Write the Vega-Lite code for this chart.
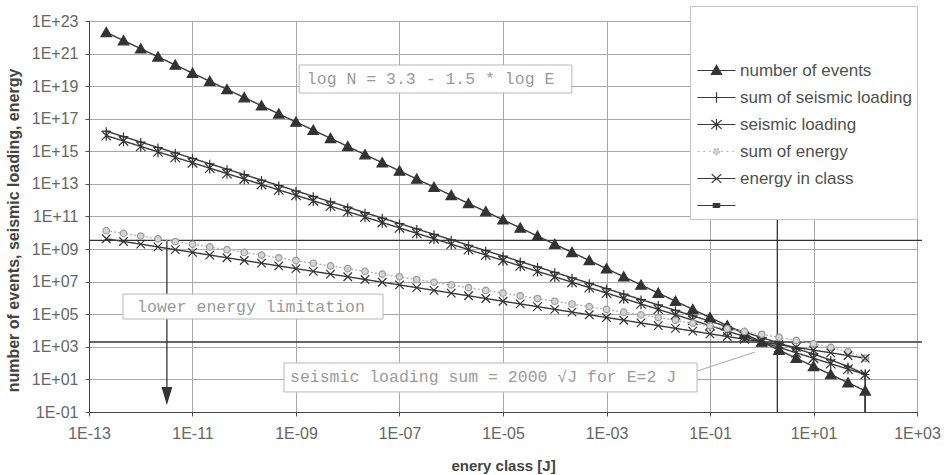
{
  "$schema": "https://vega.github.io/schema/vega-lite/v6.json",
  "width": 828,
  "height": 391,
  "autosize": {"type": "none"},
  "padding": {"left": 89, "top": 21, "right": 27, "bottom": 63},
  "background": "white",
  "config": {
    "font": "Liberation Sans",
    "view": {"stroke": "#555555", "strokeWidth": 1},
    "axis": {
      "grid": true,
      "gridColor": "#a8a8a8",
      "gridWidth": 1,
      "domainColor": "#444444",
      "tickColor": "#555555",
      "tickSize": 4,
      "labelFont": "Liberation Sans",
      "labelFontSize": 16,
      "labelColor": "#666666",
      "titleFont": "Liberation Sans",
      "titleFontSize": 15,
      "titleFontWeight": "bold",
      "titleColor": "#444444"
    }
  },
  "datasets": {
    "classes": [
      {"i": 0, "E": 2.154e-13, "number of events": 1.995e22, "sum of seismic loading": 1.724e16, "seismic loading": 9.26e15, "sum of energy": 1.349e10, "energy in class": 4.30e9},
      {"i": 1, "E": 4.642e-13, "number of events": 6.31e21, "sum of seismic loading": 8.01e15, "seismic loading": 4.30e15, "sum of energy": 9.19e9, "energy in class": 2.93e9},
      {"i": 2, "E": 1e-12, "number of events": 2.0e21, "sum of seismic loading": 3.72e15, "seismic loading": 2.0e15, "sum of energy": 6.27e9, "energy in class": 2.0e9},
      {"i": 3, "E": 2.154e-12, "number of events": 6.31e20, "sum of seismic loading": 1.724e15, "seismic loading": 9.26e14, "sum of energy": 4.27e9, "energy in class": 1.36e9},
      {"i": 4, "E": 4.642e-12, "number of events": 2.0e20, "sum of seismic loading": 8.01e14, "seismic loading": 4.30e14, "sum of energy": 2.905e9, "energy in class": 9.26e8},
      {"i": 5, "E": 1e-11, "number of events": 6.31e19, "sum of seismic loading": 3.72e14, "seismic loading": 2.0e14, "sum of energy": 1.98e9, "energy in class": 6.31e8},
      {"i": 6, "E": 2.154e-11, "number of events": 2.0e19, "sum of seismic loading": 1.724e14, "seismic loading": 9.26e13, "sum of energy": 1.349e9, "energy in class": 4.30e8},
      {"i": 7, "E": 4.642e-11, "number of events": 6.31e18, "sum of seismic loading": 8.01e13, "seismic loading": 4.30e13, "sum of energy": 9.19e8, "energy in class": 2.93e8},
      {"i": 8, "E": 1e-10, "number of events": 2.0e18, "sum of seismic loading": 3.72e13, "seismic loading": 2.0e13, "sum of energy": 6.27e8, "energy in class": 2.0e8},
      {"i": 9, "E": 2.154e-10, "number of events": 6.31e17, "sum of seismic loading": 1.724e13, "seismic loading": 9.26e12, "sum of energy": 4.27e8, "energy in class": 1.36e8},
      {"i": 10, "E": 4.642e-10, "number of events": 2.0e17, "sum of seismic loading": 8.01e12, "seismic loading": 4.30e12, "sum of energy": 2.905e8, "energy in class": 9.26e7},
      {"i": 11, "E": 1e-9, "number of events": 6.31e16, "sum of seismic loading": 3.72e12, "seismic loading": 2.0e12, "sum of energy": 1.98e8, "energy in class": 6.31e7},
      {"i": 12, "E": 2.154e-9, "number of events": 2.0e16, "sum of seismic loading": 1.724e12, "seismic loading": 9.26e11, "sum of energy": 1.349e8, "energy in class": 4.30e7},
      {"i": 13, "E": 4.642e-9, "number of events": 6.31e15, "sum of seismic loading": 8.01e11, "seismic loading": 4.30e11, "sum of energy": 9.19e7, "energy in class": 2.93e7},
      {"i": 14, "E": 1e-8, "number of events": 2.0e15, "sum of seismic loading": 3.72e11, "seismic loading": 2.0e11, "sum of energy": 6.27e7, "energy in class": 2.0e7},
      {"i": 15, "E": 2.154e-8, "number of events": 6.31e14, "sum of seismic loading": 1.724e11, "seismic loading": 9.26e10, "sum of energy": 4.27e7, "energy in class": 1.36e7},
      {"i": 16, "E": 4.642e-8, "number of events": 2.0e14, "sum of seismic loading": 8.01e10, "seismic loading": 4.30e10, "sum of energy": 2.905e7, "energy in class": 9.26e6},
      {"i": 17, "E": 1e-7, "number of events": 6.31e13, "sum of seismic loading": 3.72e10, "seismic loading": 2.0e10, "sum of energy": 1.98e7, "energy in class": 6.31e6},
      {"i": 18, "E": 2.154e-7, "number of events": 2.0e13, "sum of seismic loading": 1.724e10, "seismic loading": 9.26e9, "sum of energy": 1.349e7, "energy in class": 4.30e6},
      {"i": 19, "E": 4.642e-7, "number of events": 6.31e12, "sum of seismic loading": 8.01e9, "seismic loading": 4.30e9, "sum of energy": 9.19e6, "energy in class": 2.93e6},
      {"i": 20, "E": 1e-6, "number of events": 2.0e12, "sum of seismic loading": 3.72e9, "seismic loading": 2.0e9, "sum of energy": 6.27e6, "energy in class": 2.0e6},
      {"i": 21, "E": 2.154e-6, "number of events": 6.31e11, "sum of seismic loading": 1.724e9, "seismic loading": 9.26e8, "sum of energy": 4.27e6, "energy in class": 1.36e6},
      {"i": 22, "E": 4.642e-6, "number of events": 2.0e11, "sum of seismic loading": 8.01e8, "seismic loading": 4.30e8, "sum of energy": 2.905e6, "energy in class": 9.26e5},
      {"i": 23, "E": 1e-5, "number of events": 6.31e10, "sum of seismic loading": 3.72e8, "seismic loading": 2.0e8, "sum of energy": 1.98e6, "energy in class": 6.31e5},
      {"i": 24, "E": 2.154e-5, "number of events": 2.0e10, "sum of seismic loading": 1.724e8, "seismic loading": 9.26e7, "sum of energy": 1.349e6, "energy in class": 4.30e5},
      {"i": 25, "E": 4.642e-5, "number of events": 6.31e9, "sum of seismic loading": 8.01e7, "seismic loading": 4.30e7, "sum of energy": 9.19e5, "energy in class": 2.93e5},
      {"i": 26, "E": 1e-4, "number of events": 2.0e9, "sum of seismic loading": 3.72e7, "seismic loading": 2.0e7, "sum of energy": 6.27e5, "energy in class": 2.0e5},
      {"i": 27, "E": 2.154e-4, "number of events": 6.31e8, "sum of seismic loading": 1.724e7, "seismic loading": 9.26e6, "sum of energy": 4.27e5, "energy in class": 1.36e5},
      {"i": 28, "E": 4.642e-4, "number of events": 2.0e8, "sum of seismic loading": 8.01e6, "seismic loading": 4.30e6, "sum of energy": 2.905e5, "energy in class": 9.26e4},
      {"i": 29, "E": 1e-3, "number of events": 6.31e7, "sum of seismic loading": 3.72e6, "seismic loading": 2.0e6, "sum of energy": 1.976e5, "energy in class": 6.31e4},
      {"i": 30, "E": 2.154e-3, "number of events": 2.0e7, "sum of seismic loading": 1.724e6, "seismic loading": 9.26e5, "sum of energy": 1.345e5, "energy in class": 4.30e4},
      {"i": 31, "E": 4.642e-3, "number of events": 6.31e6, "sum of seismic loading": 8.01e5, "seismic loading": 4.30e5, "sum of energy": 9.15e4, "energy in class": 2.93e4},
      {"i": 32, "E": 0.01, "number of events": 2.0e6, "sum of seismic loading": 3.72e5, "seismic loading": 2.0e5, "sum of energy": 6.23e4, "energy in class": 2.0e4},
      {"i": 33, "E": 0.02154, "number of events": 6.31e5, "sum of seismic loading": 1.724e5, "seismic loading": 9.26e4, "sum of energy": 4.22e4, "energy in class": 1.36e4},
      {"i": 34, "E": 0.04642, "number of events": 2.0e5, "sum of seismic loading": 8.01e4, "seismic loading": 4.30e4, "sum of energy": 2.863e4, "energy in class": 9260},
      {"i": 35, "E": 0.1, "number of events": 6.31e4, "sum of seismic loading": 3.72e4, "seismic loading": 2.0e4, "sum of energy": 1.937e4, "energy in class": 6310},
      {"i": 36, "E": 0.2154, "number of events": 2.0e4, "sum of seismic loading": 17240, "seismic loading": 9260, "sum of energy": 13060, "energy in class": 4300},
      {"i": 37, "E": 0.4642, "number of events": 6310, "sum of seismic loading": 8010, "seismic loading": 4300, "sum of energy": 8767, "energy in class": 2930},
      {"i": 38, "E": 1, "number of events": 1995, "sum of seismic loading": 3716, "seismic loading": 2000, "sum of energy": 5848, "energy in class": 2000},
      {"i": 39, "E": 2.154, "number of events": 631, "sum of seismic loading": 1711, "seismic loading": 926, "sum of energy": 3841, "energy in class": 1360},
      {"i": 40, "E": 4.642, "number of events": 200, "sum of seismic loading": 785, "seismic loading": 430, "sum of energy": 2479, "energy in class": 926},
      {"i": 41, "E": 10, "number of events": 63.1, "sum of seismic loading": 356, "seismic loading": 200, "sum of energy": 1553, "energy in class": 631},
      {"i": 42, "E": 21.54, "number of events": 20.0, "sum of seismic loading": 155.6, "seismic loading": 92.6, "sum of energy": 922.6, "energy in class": 430},
      {"i": 43, "E": 46.42, "number of events": 6.31, "sum of seismic loading": 63.0, "seismic loading": 43.0, "sum of energy": 492.6, "energy in class": 293},
      {"i": 44, "E": 100, "number of events": 2.0, "sum of seismic loading": 20.0, "seismic loading": 20.0, "sum of energy": 200, "energy in class": 200},
      {"i": 45, "E": 100, "number of events": 0.001, "sum of seismic loading": 0.001, "seismic loading": 0.001}
    ],
    "hlines": [
      {"E": 1e-13, "E2": 1250, "v": 3.4e9},
      {"E": 1e-13, "E2": 1250, "v": 2000}
    ],
    "vlines": [
      {"E": 2, "v": 0.1, "v2": 1e23},
      {"E": 3.2e-12, "v": 0.95, "v2": 3.4e9}
    ],
    "arrowhead": [
      {"E": 3.2e-12, "v": 0.95}
    ],
    "noteboxes": [
      {"E": 1.15e-9, "E2": 2.14e-4, "v": 2.0e20, "v2": 3.8e18},
      {"E": 4.54e-13, "E2": 4.8e-8, "v": 1.74e6, "v2": 5.1e4},
      {"E": 5.86e-10, "E2": 0.0561, "v": 102, "v2": 1.7}
    ],
    "notetexts": [
      {"E": 1.62e-9, "v": 2.75e19, "label": "log N = 3.3 - 1.5 * log E"},
      {"E": 8.5e-13, "v": 2.97e5, "label": "lower energy limitation"},
      {"E": 7.66e-10, "v": 13.2, "label": "seismic loading sum = 2000 √J for E=2 J"}
    ],
    "leader": [
      {"E": 0.0561, "E2": 0.741, "v": 32.5, "v2": 480}
    ]
  },
  "encoding": {
    "x": {
      "field": "E", "type": "quantitative",
      "scale": {"type": "log", "domain": [1e-13, 1000], "nice": false},
      "axis": {
        "values": [1e-13, 1e-11, 1e-9, 1e-7, 1e-5, 1e-3, 0.1, 10, 1000],
        "labelExpr": "'1E' + (datum.value >= 1 ? '+' : '-') + (abs(round(log(datum.value) / LN10)) < 10 ? '0' : '') + abs(round(log(datum.value) / LN10))",
        "labelPadding": 9,
        "labelFlush": false,
        "labelOverlap": false,
        "title": "enery class [J]",
        "titleX": 414,
        "titleY": 53,
        "titleAlign": "center",
        "titleBaseline": "middle"
      }
    },
    "y": {
      "field": "v", "type": "quantitative",
      "scale": {"type": "log", "domain": [0.1, 1e23], "nice": false},
      "axis": {
        "values": [0.1, 10, 1000, 1e5, 1e7, 1e9, 1e11, 1e13, 1e15, 1e17, 1e19, 1e21, 1e23],
        "labelExpr": "'1E' + (datum.value >= 1 ? '+' : '-') + (abs(round(log(datum.value) / LN10)) < 10 ? '0' : '') + abs(round(log(datum.value) / LN10))",
        "labelPadding": 7,
        "labelFlush": false,
        "labelOverlap": false,
        "title": "number of events, seismic loading, energy",
        "titleFontSize": 16,
        "titleLimit": 420,
        "titleX": -76,
        "titleY": 209,
        "titleAngle": -90,
        "titleAlign": "center",
        "titleBaseline": "middle"
      }
    }
  },
  "layer": [
    {
      "data": {"name": "hlines"},
      "mark": {"type": "rule", "clip": false, "color": "#333333", "strokeWidth": 1.4},
      "encoding": {"x2": {"field": "E2"}}
    },
    {
      "data": {"name": "vlines"},
      "mark": {"type": "rule", "clip": true, "color": "#333333", "strokeWidth": 1.3},
      "encoding": {"y2": {"field": "v2"}}
    },
    {
      "data": {"name": "classes"},
      "transform": [
        {"fold": ["number of events", "sum of seismic loading", "seismic loading", "sum of energy", "energy in class"], "as": ["series", "v"]},
        {"filter": "isValid(datum.v)"}
      ],
      "mark": {"type": "line", "clip": true, "strokeWidth": 1.4},
      "encoding": {
        "color": {
          "field": "series", "type": "nominal",
          "scale": {
            "domain": ["number of events", "sum of seismic loading", "seismic loading", "sum of energy", "energy in class", " "],
            "range": ["#3a3a3a", "#3a3a3a", "#3a3a3a", "#b4b4b4", "#3a3a3a", "#3a3a3a"]
          },
          "legend": {
            "orient": "none",
            "legendX": 601,
            "legendY": -15,
            "direction": "vertical",
            "title": "\u00a0",
            "titleFontSize": 13,
            "titlePadding": 38,
            "padding": 5,
            "fillColor": "white",
            "strokeColor": "#c4c4c4",
            "labelFont": "Liberation Sans",
            "labelFontSize": 17,
            "labelColor": "#505050",
            "labelLimit": 300,
            "symbolSize": 64,
            "symbolStrokeWidth": 1.2,
            "symbolOffset": 13,
            "labelOffset": 15,
            "rowPadding": 9,
            "encoding": {
              "symbols": {
                "shape": {"value": {"expr": "datum.value === 'number of events' ? 'M-4.75,0H4.75M0,-1.3L1.3,1H-1.3Z' : datum.value === 'sum of seismic loading' ? 'M-4.75,0H4.75M0,-1.3V1.3' : datum.value === 'seismic loading' ? 'M-4.75,0H4.75M0,-1.4V1.4M-1.3,-1.1L1.3,1.1M-1.3,1.1L1.3,-1.1' : datum.value === 'sum of energy' ? 'M-4.75,0H-3.9M-3.3,0H-2.45M-1.85,0H-1.1M1.1,0H1.85M2.45,0H3.3M3.9,0H4.75M-0.8,0A0.8,0.8 0 1,0 0.8,0A0.8,0.8 0 1,0 -0.8,0' : datum.value === 'energy in class' ? 'M-4.75,0H4.75M-1.2,-1.1L1.2,1.1M-1.2,1.1L1.2,-1.1' : 'M-4.75,0H4.75M-0.8,-0.45H0.8V0.45H-0.8Z'"}},
                "stroke": {"value": {"expr": "datum.value === 'sum of energy' ? '#a8a8a8' : '#333333'"}},
                "fill": {"value": {"expr": "datum.value === 'number of events' || datum.value === ' ' ? '#333333' : datum.value === 'sum of energy' ? '#d0d0d0' : 'transparent'"}},
                "strokeWidth": {"value": 1.2},
                "strokeDash": {"value": [1, 0]},
                "opacity": {"value": 1}
              }
            }
          }
        },
        "strokeDash": {
          "field": "series", "type": "nominal",
          "scale": {
            "domain": ["number of events", "sum of seismic loading", "seismic loading", "sum of energy", "energy in class", " "],
            "range": [[1, 0], [1, 0], [1, 0], [2, 2], [1, 0], [1, 0]]
          },
          "legend": null
        },
        "order": {"field": "i", "type": "quantitative"}
      }
    },
    {
      "data": {"name": "classes"},
      "transform": [
        {"fold": ["number of events", "sum of seismic loading", "seismic loading", "sum of energy", "energy in class"], "as": ["kind", "v"]},
        {"filter": "isValid(datum.v) && datum.v >= 0.1"}
      ],
      "mark": {"type": "point", "clip": true, "size": 100, "strokeWidth": 1.2, "opacity": 1},
      "encoding": {
        "shape": {
          "field": "kind", "type": "nominal",
          "scale": {
            "domain": ["number of events", "sum of seismic loading", "seismic loading", "sum of energy", "energy in class"],
            "range": [
              "M0,-1L1.05,0.85H-1.05Z",
              "M0,-0.8V0.8M-0.8,0H0.8",
              "M0,-1.05V1.05M-0.95,-0.95L0.95,0.95M-0.95,0.95L0.95,-0.95",
              "M-0.65,0A0.65,0.65 0 1,0 0.65,0A0.65,0.65 0 1,0 -0.65,0",
              "M-0.85,-0.85L0.85,0.85M-0.85,0.85L0.85,-0.85"
            ]
          },
          "legend": null
        },
        "stroke": {
          "field": "kind", "type": "nominal",
          "scale": {
            "domain": ["number of events", "sum of seismic loading", "seismic loading", "sum of energy", "energy in class"],
            "range": ["#333333", "#333333", "#333333", "#9a9a9a", "#333333"]
          },
          "legend": null
        },
        "fill": {
          "field": "kind", "type": "nominal",
          "scale": {
            "domain": ["number of events", "sum of seismic loading", "seismic loading", "sum of energy", "energy in class"],
            "range": ["#333333", "transparent", "transparent", "#d4d4d4", "transparent"]
          },
          "legend": null
        }
      }
    },
    {
      "data": {"name": "arrowhead"},
      "mark": {"type": "point", "shape": "M-0.6,-1H0.6L0,1Z", "size": 324, "filled": true, "color": "#333333", "opacity": 1}
    },
    {
      "data": {"name": "noteboxes"},
      "mark": {"type": "rect", "fill": "white", "stroke": "#b8b8b8", "strokeWidth": 1},
      "encoding": {"x2": {"field": "E2"}, "y2": {"field": "v2"}}
    },
    {
      "data": {"name": "notetexts"},
      "mark": {"type": "text", "align": "left", "baseline": "middle", "font": "Liberation Mono", "fontSize": 16.5, "color": "#9a9a9a"},
      "encoding": {"text": {"field": "label"}}
    },
    {
      "data": {"name": "leader"},
      "mark": {"type": "rule", "color": "#a8a8a8", "strokeWidth": 1},
      "encoding": {"x2": {"field": "E2"}, "y2": {"field": "v2"}}
    }
  ]
}
